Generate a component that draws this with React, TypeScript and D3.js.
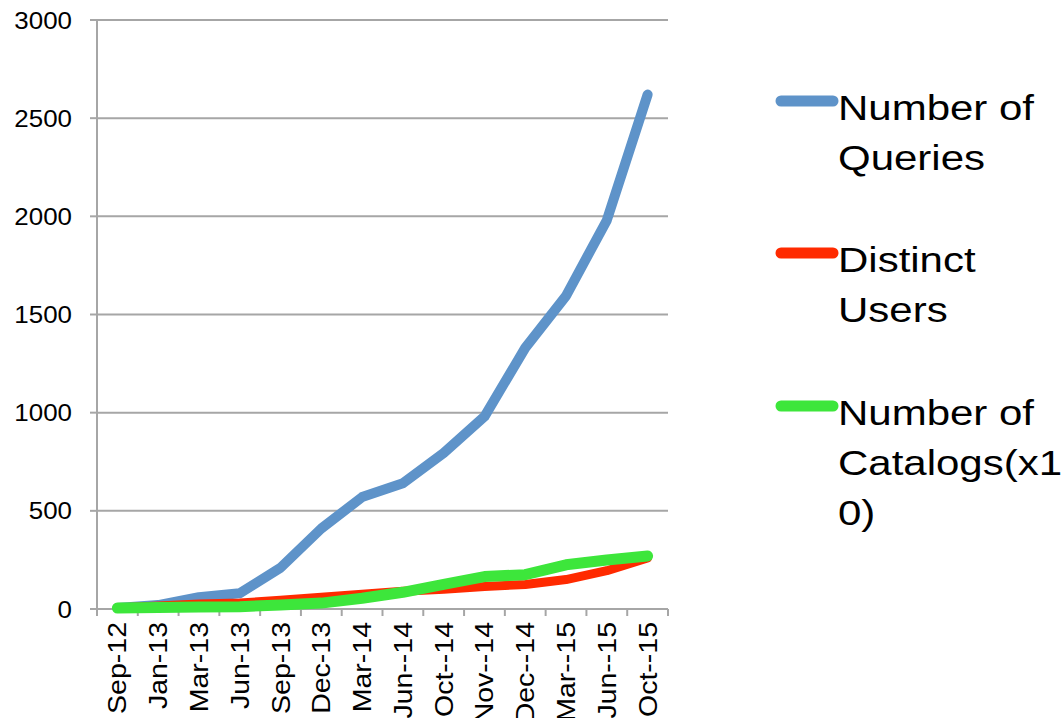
import * as d3 from "d3";

const months = [
  "Sep-12", "Jan-13", "Mar-13", "Jun-13", "Sep-13", "Dec-13", "Mar-14",
  "Jun--14", "Oct--14", "Nov--14", "Dec--14", "Mar--15", "Jun--15", "Oct--15",
];
const queries = [5, 20, 60, 80, 210, 410, 570, 640, 795, 980, 1330, 1595, 1980, 2620];
const distinctUsers = [5, 15, 25, 30, 45, 60, 75, 90, 100, 115, 125, 150, 195, 260];
const catalogsX10 = [5, 8, 10, 12, 20, 30, 55, 85, 125, 165, 175, 225, 250, 270];
const yTicks = [0, 500, 1000, 1500, 2000, 2500, 3000];

const seriesList = [
  { name: ["Number of", "Queries"], values: queries, color: "#5e93c9", width: 10 },
  { name: ["Distinct", "Users"], values: distinctUsers, color: "#ff2a00", width: 9 },
  { name: ["Number of", "Catalogs(x1", "0)"], values: catalogsX10, color: "#3de63b", width: 11 },
];

const legendY = [101, 253, 406];

export default function App() {
  const left = 97;
  const right = 668;
  const top = 20;
  const bottom = 609;
  const font = "Arial, 'Liberation Sans', Helvetica, sans-serif";

  const x = d3.scaleBand<string>().domain(months).range([left, right]);
  const y = d3.scaleLinear().domain([0, 3000]).range([bottom, top]);
  const line = d3
    .line<number>()
    .x((_, i) => (x(months[i]) ?? 0) + x.bandwidth() / 2)
    .y((d) => y(d));

  const edges = d3.range(months.length + 1).map((i) => left + i * x.step());

  return (
    <svg width={1064} height={718} style={{ position: "absolute", left: 0, top: 0, background: "#fff" }}>
      {yTicks.map((t) => (
        <g key={t}>
          {t > 0 && <line x1={left} x2={right} y1={y(t)} y2={y(t)} stroke="#a6a6a6" strokeWidth={2} />}
          <line x1={left - 7} x2={left} y1={y(t)} y2={y(t)} stroke="#a6a6a6" strokeWidth={2} />
          <text
            transform={`translate(72,${y(t) + 8.5}) scale(1.08,1)`}
            textAnchor="end"
            fontFamily={font}
            fontSize={24}
            fill="#000"
          >
            {t}
          </text>
        </g>
      ))}
      <line x1={left} x2={left} y1={top} y2={bottom} stroke="#a6a6a6" strokeWidth={2} />
      <line x1={left - 7} x2={right} y1={bottom} y2={bottom} stroke="#a6a6a6" strokeWidth={2} />
      {edges.map((ex, i) => (
        <line key={i} x1={ex} x2={ex} y1={bottom} y2={bottom + 7} stroke="#a6a6a6" strokeWidth={2} />
      ))}
      {months.map((m) => (
        <text
          key={m}
          transform={`translate(${(x(m) ?? 0) + x.bandwidth() / 2 + 9},622) rotate(-90) scale(1.14,1)`}
          textAnchor="end"
          fontFamily={font}
          fontSize={25}
          fill="#000"
        >
          {m}
        </text>
      ))}
      {seriesList.map((s) => (
        <path
          key={s.color}
          d={line(s.values) ?? ""}
          fill="none"
          stroke={s.color}
          strokeWidth={s.width}
          strokeLinecap="round"
          strokeLinejoin="round"
        />
      ))}
      {seriesList.map((s, i) => (
        <g key={s.color}>
          <line x1={781} x2={833} y1={legendY[i]} y2={legendY[i]} stroke={s.color} strokeWidth={11} strokeLinecap="round" />
          {s.name.map((n, j) => (
            <text
              key={j}
              transform={`translate(838,${legendY[i] + 19 + j * 50}) scale(1.2,1)`}
              fontFamily={font}
              fontSize={35}
              fill="#000"
            >
              {n}
            </text>
          ))}
        </g>
      ))}
    </svg>
  );
}
